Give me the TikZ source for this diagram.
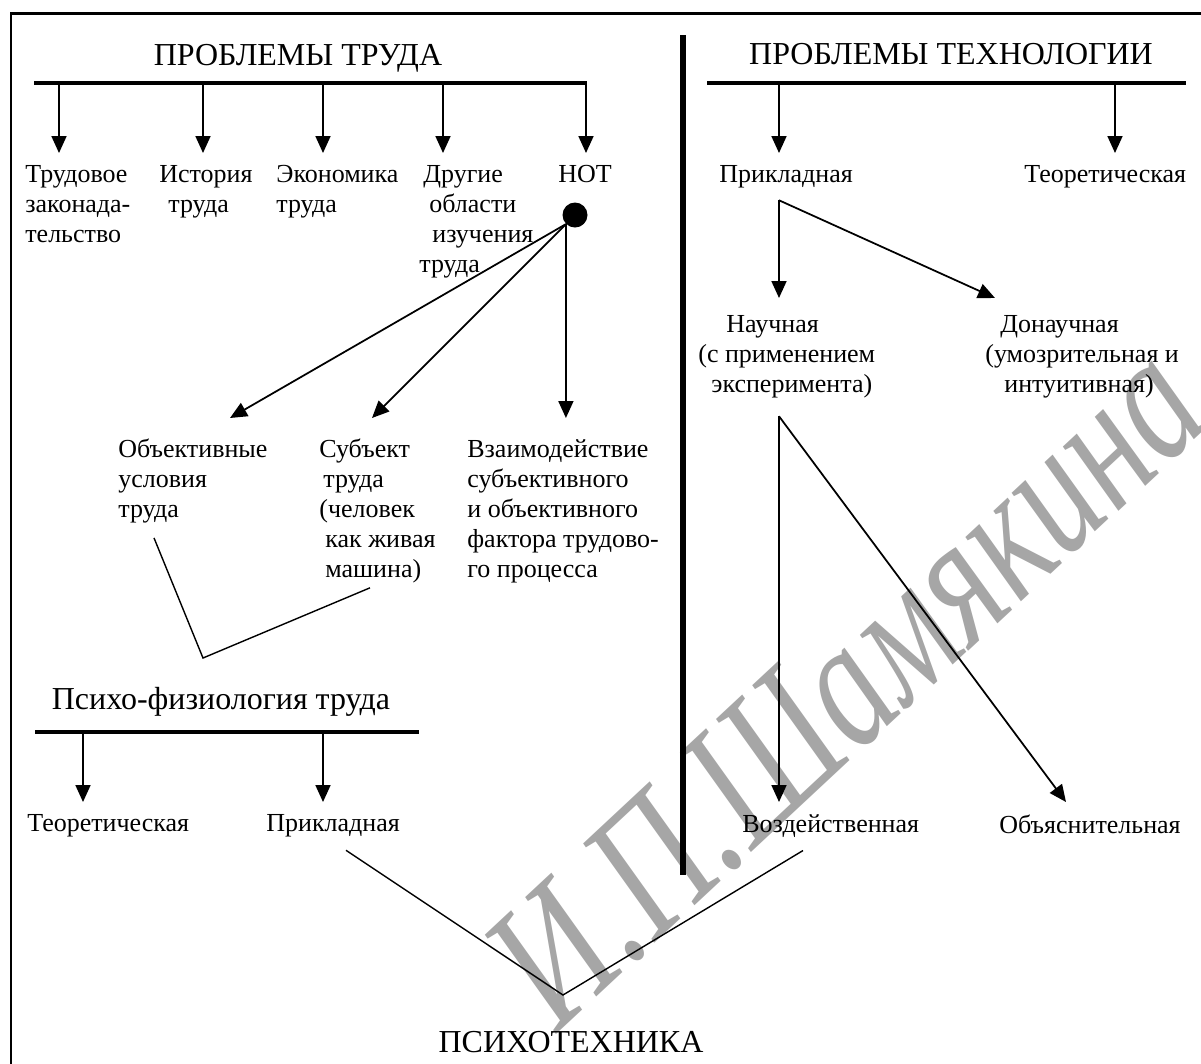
\documentclass[tikz,border=0pt]{standalone}
\usepackage{fontspec}
\setmainfont{Liberation Serif}
\usetikzlibrary{arrows.meta}
\tikzset{
  frame/.style={line width=1.7pt},
  bar/.style={line width=2.8pt},
  divider/.style={line width=3.3pt},
  arr/.style={-{Triangle[length=0.34cm,width=0.3cm]}, line width=1pt},
  arm/.style={line width=0.8pt},
  lbl/.style={anchor=north west, inner xsep=0pt, inner ysep=#1, align=left,
    font=\fontsize{14.8}{17.07}\selectfont},
  lbl/.default=0.24cm,
  head/.style={anchor=base, inner sep=0pt, font=\fontsize{18.2}{21}\selectfont},
  wmark/.style={inner sep=0pt, text=black!35, font=\fontsize{78}{84}\selectfont\itshape},
}

\begin{document}
\begin{tikzpicture}[x=0.02cm, y=-0.02cm, line cap=butt]
	\useasboundingbox (0,0) rectangle (1201,1063);
	\node[wmark, rotate=43, yscale=1.35] (wm) at (846,684) {И.П.Шамякина};
	\draw[frame] (11,1100) -- (11,13) -- (1260,13);
	\draw[divider] (683,35) -- (683,875);

	% ПРОБЛЕМЫ ТРУДА
	\node[head] (trhead) at (298,65) {ПРОБЛЕМЫ ТРУДА};
	\coordinate (trbarL) at (34,83);
	\coordinate (trbarR) at (587,83);
	\draw[bar] (trbarL) -- (trbarR);
	\node[lbl] (trud) at (25,153) {Трудовое\\законада-\\тельство};
	\node[lbl] (ist) at (159,153) {История\\\hspace*{0.18cm}труда};
	\node[lbl] (econ) at (276,153) {Экономика\\труда};
	\node[lbl] (drug) at (419,153) {\hspace*{0.08cm}Другие\\\hspace*{0.2cm}области\\\hspace*{0.26cm}изучения\\труда};
	\node[lbl] (not) at (558,153) {НОТ};
	\foreach \x/\n in {59/trud, 203/ist, 323/econ, 443/drug, 586/not}
		\draw[arr] (\x,0 |- trbarL) -- (\x,0 |- \n.north);
	\node[circle, fill, inner sep=0pt, minimum size=0.5cm] (notdot) at (575,215) {};

	\node[lbl=0.42cm] (obj) at (118,418) {Объективные\\условия\\труда};
	\node[lbl=0.42cm] (subj) at (319,418) {Субъект\\\hspace*{0.08cm}труда\\(человек\\\hspace*{0.12cm}как живая\\\hspace*{0.12cm}машина)};
	\node[lbl=0.42cm] (inter) at (467,418) {Взаимодействие\\субъективного\\и объективного\\фактора трудово-\\го процесса};
	\draw[arr] (notdot.south west) -- (230,0 |- obj.north);
	\draw[arr] (notdot.south west) -- (372,0 |- subj.north);
	\draw[arr] (notdot.south west) -- (notdot.south west |- inter.north);

	\coordinate (pfv) at (203,658);
	\draw[arm] ([shift={(36,-7)}]obj.south west) -- (pfv) -- ([shift={(51,-17)}]subj.south west);

	% Психо-физиология труда
	\node[head] (pfhead) at (221,709) {Психо-физиология труда};
	\coordinate (pfbarL) at (35,732);
	\coordinate (pfbarR) at (419,732);
	\draw[bar] (pfbarL) -- (pfbarR);
	\node[lbl=0.25cm] (pftheor) at (27,802) {Теоретическая};
	\node[lbl=0.25cm] (pfprikl) at (266,802) {Прикладная};
	\foreach \x/\n in {83/pftheor, 323/pfprikl}
		\draw[arr] (\x,0 |- pfbarL) -- (\x,0 |- \n.north);

	% ПРОБЛЕМЫ ТЕХНОЛОГИИ
	\node[head] (tehead) at (951,64) {ПРОБЛЕМЫ ТЕХНОЛОГИИ};
	\coordinate (tebarL) at (707,83);
	\coordinate (tebarR) at (1186,83);
	\draw[bar] (tebarL) -- (tebarR);
	\node[lbl] (teprikl) at (719,153) {Прикладная};
	\node[lbl] (tetheor) at (1024,153) {Теоретическая};
	\foreach \x/\n in {779/teprikl, 1115/tetheor}
		\draw[arr] (\x,0 |- tebarL) -- (\x,0 |- \n.north);

	\node[lbl=0.35cm] (nauch) at (698,298) {\hspace*{0.56cm}Научная\\(с применением\\\hspace*{0.26cm}эксперимента)};
	\node[lbl=0.35cm] (donauch) at (985,298) {\hspace*{0.3cm}Донаучная\\(умозрительная и\\\hspace*{0.38cm}интуитивная)};
	\coordinate (teapex) at (779,0 |- teprikl.south);
	\draw[arr] (teapex) -- (779,0 |- nauch.north);
	\draw[arr] (teapex) -- (995,0 |- donauch.north);

	\node[lbl=0.25cm] (vozd) at (742,802) {Воздейственная};
	\node[lbl=0.25cm] (obyas) at (999,802) {Объяснительная};
	\coordinate (naapex) at (779,0 |- nauch.south);
	\draw[arr] (naapex) -- (779,0 |- vozd.north);
	\draw[arr] (naapex) -- (1066,0 |- obyas.north);

	% ПСИХОТЕХНИКА
	\coordinate (ptv) at (563,995);
	\draw[arm] (346,0 |- pfprikl.south) -- (ptv) -- (803,0 |- vozd.south);
	\node[head] (pthead) at (571,1052) {ПСИХОТЕХНИКА};

\end{tikzpicture}
\end{document}
